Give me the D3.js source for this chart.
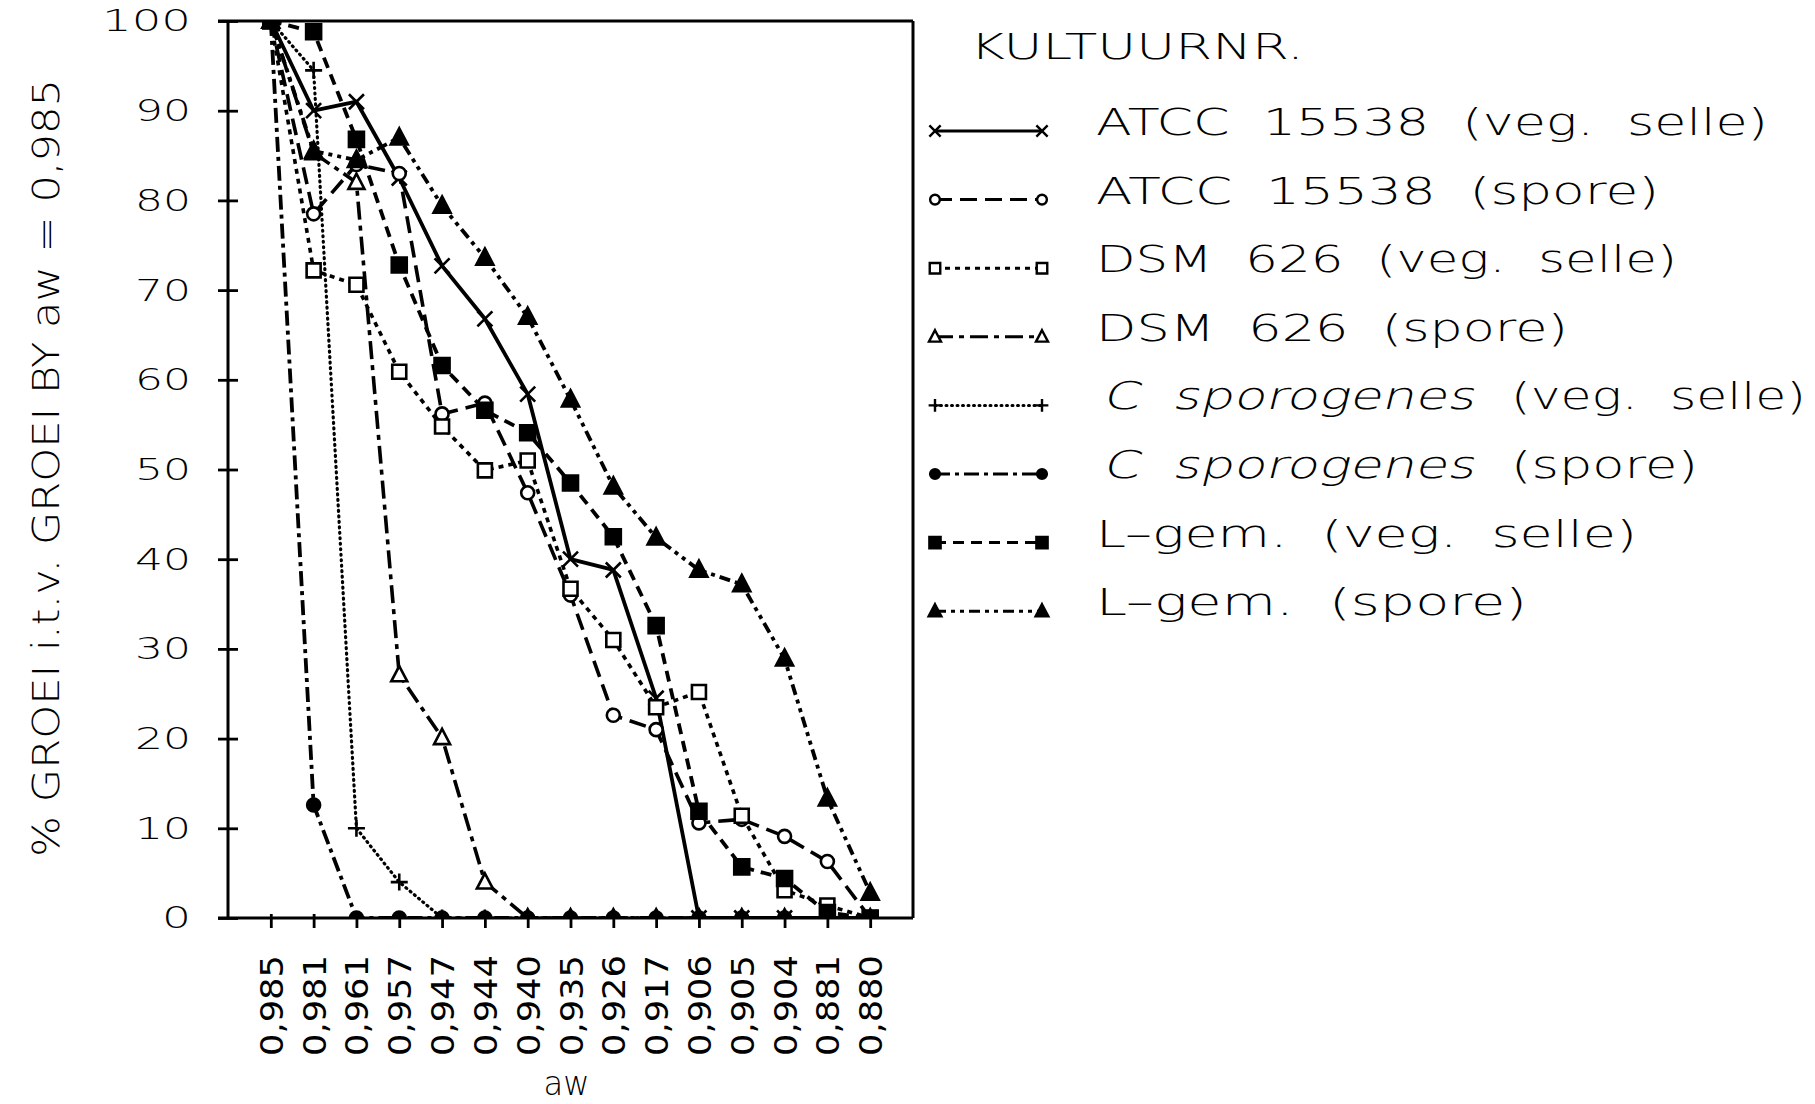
<!DOCTYPE html>
<html>
<head>
<meta charset="utf-8">
<script src="https://cdn.jsdelivr.net/npm/d3@7"></script>
<style>
  html, body { margin: 0; padding: 0; background: #fff; }
  svg { display: block; }
  text { fill: #000; }
</style>
</head>
<body>
<svg id="chart" width="1815" height="1104"></svg>
<script>
// Water activity steps (category axis) and y ticks
const awLabels = ["0,985", "0,981", "0,961", "0,957", "0,947", "0,944", "0,940", "0,935",
                  "0,926", "0,917", "0,906", "0,905", "0,904", "0,881", "0,880"];
const yTickValues = [0, 10, 20, 30, 40, 50, 60, 70, 80, 90, 100];

// % growth relative to growth at aw = 0,985, one array per culture
const atccVeg    = [100, 90, 91, 82.5, 72.7, 66.8, 58.4, 40, 38.8, 24.5, 0, 0, 0, 0, 0];
const atccSpore  = [100, 78.5, 84, 83, 56.2, 57.4, 47.4, 36, 22.6, 21, 10.6, 11, 9.1, 6.3, 0];
const dsmVeg     = [100, 72.2, 70.6, 60.9, 54.8, 49.9, 51, 36.7, 31, 23.5, 25.2, 11.4, 3.1, 1.4, 0];
const dsmSpore   = [100, 85.3, 82, 27.1, 20.1, 4, 0, 0, 0, 0, 0, 0, 0, 0, 0];
const csporVeg   = [100, 94.5, 10, 4, 0, 0, 0, 0, 0, 0, 0, 0, 0, 0, 0];
const csporSpore = [100, 12.6, 0, 0, 0, 0, 0, 0, 0, 0, 0, 0, 0, 0, 0];
const lgemVeg    = [100, 98.8, 86.8, 72.8, 61.6, 56.6, 54.1, 48.5, 42.5, 32.6, 11.9, 5.7, 4.4, 0.6, 0];
const lgemSpore  = [100, 85.5, 84.5, 87, 79.4, 73.6, 67, 57.8, 48.1, 42.4, 38.8, 37.2, 28.9, 13.3, 2.8];

// Legend captions
const legendTitle = "KULTUURNR.";
const legendLabels = [
  { main: "ATCC  15538  (veg.  selle)" },
  { main: "ATCC  15538  (spore)" },
  { main: "DSM  626  (veg.  selle)" },
  { main: "DSM  626  (spore)" },
  { italic: "C  sporogenes", rest: "(veg.  selle)" },
  { italic: "C  sporogenes", rest: "(spore)" },
  { main: "L\u2013gem.  (veg.  selle)" },
  { main: "L\u2013gem.  (spore)" }
];

// Drawing styles for each culture
const seriesStyle = [
  { values: atccVeg,    dash: null,            width: 3.8, marker: "times",     size: 7.5 },
  { values: atccSpore,  dash: "17,8",          width: 3.6, marker: "circle",    size: 6.5 },
  { values: dsmVeg,     dash: "5,5",           width: 3.6, marker: "square",    size: 7 },
  { values: dsmSpore,   dash: "18,6,5,6",      width: 3.6, marker: "triangle",  size: 8 },
  { values: csporVeg,   dash: "1,4.5",         width: 3.2, marker: "plus",      size: 8.5, cap: "round" },
  { values: csporSpore, dash: "15,5,4,5",      width: 3.8, marker: "dot",       size: 6.5 },
  { values: lgemVeg,    dash: "11,7",          width: 3.8, marker: "fsquare",   size: 7.5 },
  { values: lgemSpore,  dash: "11,5,4,5,4,5",  width: 3.8, marker: "ftriangle", size: 8.5 }
];
const legendWidths = [672, 563, 581, 472, null, null, 541, 431];

const W = 1815, H = 1104;
const plot = { left: 228, right: 913, top: 21, bottom: 918 };
const FONT = "'DejaVu Sans', 'Liberation Sans', sans-serif";

const x = d3.scalePoint().domain(awLabels).range([plot.left, plot.right]).padding(1);
const y = d3.scaleLinear().domain([0, 100]).range([plot.bottom, plot.top]);

const svg = d3.select("#chart");
svg.append("rect").attr("width", W).attr("height", H).attr("fill", "#fff");

svg.append("defs").append("clipPath").attr("id", "plotClip")
  .append("rect")
  .attr("x", plot.left).attr("y", plot.top)
  .attr("width", plot.right - plot.left).attr("height", plot.bottom - plot.top);

function markerPath(type, s) {
  switch (type) {
    case "times": return `M${-s},${-s}L${s},${s}M${-s},${s}L${s},${-s}`;
    case "plus": return `M${-s},0L${s},0M0,${-s}L0,${s}`;
    case "circle":
    case "dot": return `M${s},0A${s},${s} 0 1,1 ${-s},0A${s},${s} 0 1,1 ${s},0Z`;
    case "square":
    case "fsquare": return `M${-s},${-s}H${s}V${s}H${-s}Z`;
    default: return `M0,${-s * 1.1}L${s},${s * 0.8}L${-s},${s * 0.8}Z`;
  }
}
function markerFill(type) {
  if (type === "dot" || type === "fsquare" || type === "ftriangle") return "#000";
  if (type === "times" || type === "plus") return "none";
  return "#fff";
}

// ---- data lines and markers ----
const marks = svg.append("g").attr("clip-path", "url(#plotClip)");
const line = d3.line().x((d, i) => x(awLabels[i])).y(d => y(d));

seriesStyle.forEach(s => {
  marks.append("path")
    .attr("d", line(s.values))
    .attr("fill", "none")
    .attr("stroke", "#000")
    .attr("stroke-width", s.width)
    .attr("stroke-dasharray", s.dash)
    .attr("stroke-linecap", s.cap || "butt")
    .attr("stroke-linejoin", "round");
});

// filled circles drawn last so the baseline bumps stay visible
const markerOrder = [0, 1, 2, 3, 4, 6, 7, 5];
markerOrder.forEach(k => {
  const s = seriesStyle[k];
  marks.append("g").selectAll("path")
    .data(s.values)
    .join("path")
    .attr("transform", (d, i) => `translate(${x(awLabels[i])},${y(d)})`)
    .attr("d", markerPath(s.marker, s.size))
    .attr("fill", markerFill(s.marker))
    .attr("stroke", "#000")
    .attr("stroke-width", 2.6);
});

// ---- frame ----
const frame = svg.append("g").attr("stroke", "#000").attr("stroke-width", 3);
frame.append("line").attr("x1", plot.left).attr("x2", plot.left).attr("y1", plot.top).attr("y2", plot.bottom);
frame.append("line").attr("x1", plot.right).attr("x2", plot.right).attr("y1", plot.top).attr("y2", plot.bottom);
frame.append("line").attr("x1", plot.left - 10).attr("x2", plot.right).attr("y1", plot.top).attr("y2", plot.top);
frame.append("line").attr("x1", plot.left - 10).attr("x2", plot.right).attr("y1", plot.bottom).attr("y2", plot.bottom);

// ---- y axis ----
const gy = svg.append("g")
  .attr("transform", `translate(${plot.left},0)`)
  .call(d3.axisLeft(y).tickValues(yTickValues).tickSize(10).tickPadding(27).tickFormat(d3.format("d")))
  .attr("font-family", FONT).attr("font-size", 31).attr("font-weight", 200);
gy.select(".domain").remove();
gy.selectAll(".tick line").attr("x1", 10).attr("x2", -10).attr("stroke", "#000").attr("stroke-width", 2.8);
const yLabelWidth = { 1: 29, 2: 56, 3: 89 };
gy.selectAll(".tick text")
  .attr("fill", "#000")
  .attr("textLength", d => yLabelWidth[String(d).length])
  .attr("lengthAdjust", "spacingAndGlyphs");

// ---- x axis ----
const gx = svg.append("g")
  .attr("transform", `translate(0,${plot.bottom})`)
  .call(d3.axisBottom(x).tickSize(10).tickPadding(0))
  .attr("font-family", FONT).attr("font-size", 32);
gx.select(".domain").remove();
gx.selectAll(".tick line").attr("y1", -4).attr("y2", 10).attr("stroke", "#000").attr("stroke-width", 2.8);
gx.selectAll(".tick text")
  .attr("fill", "#000")
  .attr("transform", "rotate(-90)")
  .attr("x", -37).attr("y", 0).attr("dy", "0.36em")
  .attr("text-anchor", "end")
  .attr("textLength", 101)
  .attr("lengthAdjust", "spacingAndGlyphs");

// ---- axis titles ----
svg.append("text")
  .attr("transform", "translate(59,468) rotate(-90)")
  .attr("text-anchor", "middle")
  .attr("font-family", FONT)
  .attr("font-size", 37)
  .attr("font-weight", 200)
  .attr("textLength", 778)
  .attr("lengthAdjust", "spacingAndGlyphs")
  .style("white-space", "pre")
  .text("% GROEI i.t.v. GROEI BY aw = 0,985");

svg.append("text")
  .attr("x", (plot.left + plot.right) / 2 - 4)
  .attr("y", 1095)
  .attr("text-anchor", "middle")
  .attr("font-family", FONT)
  .attr("font-size", 33)
  .attr("font-weight", 200)
  .attr("textLength", 46)
  .attr("lengthAdjust", "spacingAndGlyphs")
  .text("aw");

// ---- legend ----
const lg = svg.append("g").attr("font-family", FONT).attr("font-weight", 200);
lg.append("text")
  .attr("x", 970).attr("y", 59)
  .attr("font-size", 35)
  .attr("textLength", 334)
  .attr("lengthAdjust", "spacingAndGlyphs")
  .text(legendTitle);

const symX0 = 935, symX1 = 1042, textX = 1096;
seriesStyle.forEach((s, i) => {
  const sy = 131 + i * 68.6;
  const row = lg.append("g");
  row.append("line")
    .attr("x1", symX0).attr("x2", symX1).attr("y1", sy).attr("y2", sy)
    .attr("stroke", "#000")
    .attr("stroke-width", 3)
    .attr("stroke-dasharray", s.dash)
    .attr("stroke-linecap", s.cap || "butt");
  [symX0, symX1].forEach(mx => {
    row.append("path")
      .attr("transform", `translate(${mx},${sy})`)
      .attr("d", markerPath(s.marker, s.size * 0.75))
      .attr("fill", markerFill(s.marker))
      .attr("stroke", "#000")
      .attr("stroke-width", 2.4);
  });
  const lab = legendLabels[i];
  const base = sy + 4;
  if (lab.italic) {
    // slanted light face for the species name
    row.append("text")
      .attr("transform", `translate(${textX + 6},${base}) skewX(-14)`)
      .attr("font-size", 38)
      .attr("textLength", 372).attr("lengthAdjust", "spacingAndGlyphs")
      .style("white-space", "pre")
      .text(lab.italic);
    row.append("text")
      .attr("x", 1511).attr("y", base)
      .attr("font-size", 38)
      .attr("textLength", lab.rest.indexOf("veg") >= 0 ? 295 : 187)
      .attr("lengthAdjust", "spacingAndGlyphs")
      .style("white-space", "pre")
      .text(lab.rest);
  } else {
    row.append("text")
      .attr("x", textX).attr("y", base)
      .attr("font-size", 38)
      .attr("textLength", legendWidths[i]).attr("lengthAdjust", "spacingAndGlyphs")
      .style("white-space", "pre")
      .text(lab.main);
  }
});
</script>
</body>
</html>
